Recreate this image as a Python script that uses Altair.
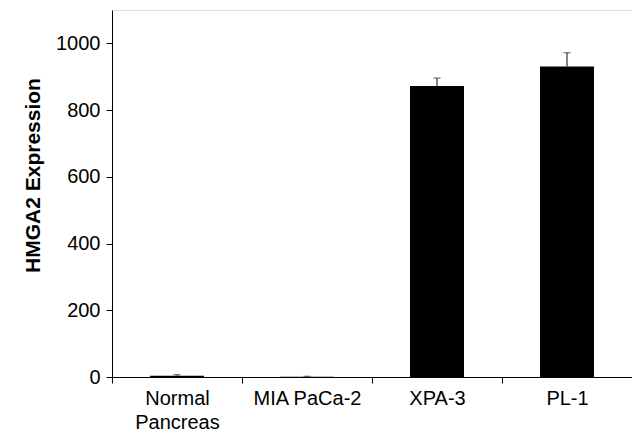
import altair as alt
import pandas as pd

categories = ["Normal Pancreas", "MIA PaCa-2", "XPA-3", "PL-1"]
values = [4, 1, 872, 931]
errors = [3, 1, 24, 41]
y_ticks = [0, 200, 400, 600, 800, 1000]

df = pd.DataFrame({"cat": categories, "val": values, "err": errors})
df["top"] = df["val"] + df["err"]

FONT = "Liberation Sans"

x_enc = alt.X(
    "cat:N",
    sort=categories,
    scale=alt.Scale(paddingInner=0, paddingOuter=0),
    axis=alt.Axis(
        title=None,
        labelAngle=0,
        labelFont=FONT,
        labelFontSize=20,
        labelColor="black",
        labelPadding=5,
        labelBaseline="top",
        labelLineHeight=24,
        labelExpr="datum.label == 'Normal Pancreas' ? ['Normal', 'Pancreas'] : datum.label",
        tickBand="extent",
        tickSize=6,
        tickColor="black",
        domainColor="black",
    ),
)

y_scale = alt.Scale(domain=[0, 1100], nice=False)

bars = alt.Chart(df).mark_bar(size=54, color="black").encode(
    x=x_enc,
    y=alt.Y(
        "val:Q",
        scale=y_scale,
        axis=alt.Axis(
            title="HMGA2 Expression",
            titleFont=FONT,
            titleFontSize=21,
            titleFontWeight="bold",
            titleColor="black",
            titlePadding=12,
            titleY=165,
            values=y_ticks,
            format="d",
            grid=False,
            labelFont=FONT,
            labelFontSize=20,
            labelColor="black",
            labelPadding=6,
            tickSize=6,
            tickColor="black",
            domainColor="black",
        ),
    ),
)

err_rule = alt.Chart(df).mark_rule(color="#333333", strokeWidth=1.2).encode(
    x=alt.X("cat:N", sort=categories),
    y=alt.Y("val:Q", scale=y_scale),
    y2="top:Q",
)

err_cap = alt.Chart(df).mark_tick(color="#333333", size=7, thickness=1.2).encode(
    x=alt.X("cat:N", sort=categories),
    y=alt.Y("top:Q", scale=y_scale),
)

chart = (
    alt.layer(bars, err_rule, err_cap)
    .properties(
        width=520,
        height=367,
        autosize=alt.AutoSizeParams(type="none"),
        padding={"left": 104, "top": 2, "right": 0, "bottom": 55},
    )
    .configure_view(stroke="black", strokeWidth=1)
    .configure(background="white")
)

chart.save("out.html", embed_options={"renderer": "svg", "actions": False})
